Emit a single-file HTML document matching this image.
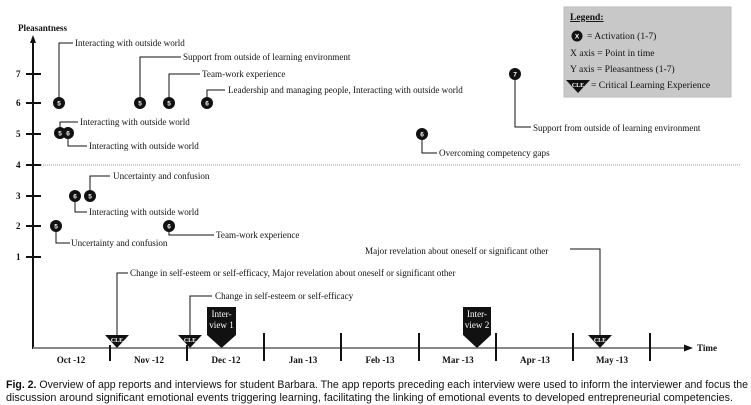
<!DOCTYPE html>
<html><head><meta charset="utf-8"><style>
html,body{margin:0;padding:0;background:#fff;}
svg{display:block}
.s{font-family:"Liberation Serif",serif;font-size:9.1px;fill:#111}
.l{font-size:9.6px}
.b{font-weight:bold}
.n{font-family:"Liberation Sans",sans-serif;font-size:6.5px;font-weight:bold;fill:#fff;text-anchor:middle}
.c{font-family:"Liberation Sans","DejaVu Sans",sans-serif;font-size:10.6px;fill:#111}
</style></head><body>
<svg width="751" height="405" viewBox="0 0 751 405" xmlns="http://www.w3.org/2000/svg">
<defs>
<g id="clet"><polygon points="-12,-13 12,-13 0,0" fill="#111"/><text x="0" y="-6" class="n" style="font-size:6px;font-family:'Liberation Serif',serif">CLE</text></g>
</defs>
<text x="18" y="31" class="s b">Pleasantness</text>
<line x1="33" y1="40" x2="33" y2="349" stroke="#111" stroke-width="2"/>
<polygon points="33,35 30,43 36,43" fill="#111"/>
<g stroke="#111" stroke-width="2">
<line x1="26" y1="74" x2="41" y2="74"/><line x1="26" y1="103" x2="41" y2="103"/>
<line x1="26" y1="134" x2="41" y2="134"/><line x1="26" y1="165" x2="41" y2="165"/>
<line x1="26" y1="196" x2="41" y2="196"/><line x1="26" y1="226" x2="41" y2="226"/>
<line x1="26" y1="257" x2="41" y2="257"/>
</g>
<g class="s b"><text x="16" y="77">7</text><text x="16" y="106">6</text><text x="16" y="137">5</text><text x="16" y="168">4</text><text x="16" y="199">3</text><text x="16" y="229">2</text><text x="16" y="260">1</text></g>
<line x1="41" y1="165" x2="740" y2="165" stroke="#999" stroke-width="1" stroke-dasharray="1,1"/>
<line x1="33" y1="348" x2="688" y2="348" stroke="#888" stroke-width="2"/>
<polygon points="693,348 684,344.5 684,351.5" fill="#111"/>
<text x="697" y="351" class="s b">Time</text>
<g stroke="#111" stroke-width="2">
<line x1="110" y1="345" x2="110" y2="361"/><line x1="187" y1="345" x2="187" y2="361"/>
<line x1="264" y1="333" x2="264" y2="361"/><line x1="341" y1="333" x2="341" y2="361"/>
<line x1="419" y1="333" x2="419" y2="361"/><line x1="496" y1="333" x2="496" y2="361"/>
<line x1="573" y1="333" x2="573" y2="361"/><line x1="650" y1="333" x2="650" y2="361"/>
</g>
<g class="s b" text-anchor="middle">
<text x="71" y="363">Oct -12</text><text x="149" y="363">Nov -12</text><text x="226" y="363">Dec -12</text>
<text x="303" y="363">Jan -13</text><text x="380" y="363">Feb -13</text><text x="458" y="363">Mar -13</text>
<text x="535" y="363">Apr -13</text><text x="612" y="363">May -13</text>
</g>
<g fill="none" stroke="#111" stroke-width="1">
<polyline points="59,103 59,43 73,43"/>
<polyline points="140,103 140,57 181,57"/>
<polyline points="169,103 169,74 200,74"/>
<polyline points="207,103 207,90 225,90"/>
<polyline points="60,133 60,122 78,122"/>
<polyline points="68,133 68,146 87,146"/>
<polyline points="422,134 422,153 437,153"/>
<polyline points="515,74 515,127 531,127"/>
<polyline points="75,196 75,212 87,212"/>
<polyline points="90,196 90,176 110,176"/>
<polyline points="56,226 56,243 70,243"/>
<polyline points="169,226 169,235 214,235"/>
<polyline points="117,340 117,273 128,273"/>
<polyline points="190,340 190,296 212,296"/>
<polyline points="600,340 600,249 570,249"/>
</g>
<g class="s">
<text x="75" y="46">Interacting with outside world</text>
<text x="183" y="60">Support from outside of learning environment</text>
<text x="202" y="77">Team-work experience</text>
<text x="228" y="93">Leadership and managing people, Interacting with outside world</text>
<text x="80" y="125">Interacting with outside world</text>
<text x="89" y="149">Interacting with outside world</text>
<text x="439" y="156">Overcoming competency gaps</text>
<text x="533" y="131">Support from outside of learning environment</text>
<text x="89" y="215">Interacting with outside world</text>
<text x="113" y="179">Uncertainty and confusion</text>
<text x="71" y="246">Uncertainty and confusion</text>
<text x="216" y="238">Team-work experience</text>
<text x="130" y="276">Change in self-esteem or self-efficacy, Major revelation about oneself or significant other</text>
<text x="215" y="299">Change in self-esteem or self-efficacy</text>
<text x="365" y="254">Major revelation about oneself or significant other</text>
</g>
<g fill="#111">
<circle cx="59" cy="103" r="6"/><circle cx="140" cy="103" r="6"/><circle cx="169" cy="103" r="6"/><circle cx="207" cy="103" r="6"/>
<circle cx="60" cy="133" r="6"/><circle cx="68" cy="133" r="6"/><circle cx="422" cy="134" r="6"/><circle cx="515" cy="74" r="6"/>
<circle cx="75" cy="196" r="6"/><circle cx="90" cy="196" r="6"/><circle cx="56" cy="226" r="6"/><circle cx="169" cy="226" r="6"/>
</g>
<g class="n">
<text x="59" y="105.5">5</text><text x="140" y="105.5">5</text><text x="169" y="105.5">5</text><text x="207" y="105.5">6</text>
<text x="60" y="135.5">5</text><text x="68" y="135.5">6</text><text x="422" y="136.5">6</text><text x="515" y="76.5">7</text>
<text x="75" y="198.5">6</text><text x="90" y="198.5">5</text><text x="56" y="228.5">5</text><text x="169" y="228.5">6</text>
</g>
<use href="#clet" x="117" y="348"/><use href="#clet" x="190" y="348"/><use href="#clet" x="600" y="348"/>
<polygon points="207,307 236,307 236,335 221.5,348 207,335" fill="#111"/>
<text x="221.5" y="317" class="s" style="fill:#fff" text-anchor="middle">Inter-</text>
<text x="221.5" y="328" class="s" style="fill:#fff" text-anchor="middle">view 1</text>
<polygon points="463,307 491,307 491,335 477,348 463,335" fill="#111"/>
<text x="477" y="317" class="s" style="fill:#fff" text-anchor="middle">Inter-</text>
<text x="477" y="328" class="s" style="fill:#fff" text-anchor="middle">view 2</text>
<rect x="564" y="7" width="167" height="90" fill="#c8c8c8" stroke="#bbb"/>
<text x="570" y="20" class="s l b" text-decoration="underline">Legend:</text>
<circle cx="577" cy="36" r="5.5" fill="#111"/><text x="577" y="38.5" class="n">X</text>
<text x="587" y="39" class="s l">= Activation (1-7)</text>
<text x="570" y="56" class="s l">X axis = Point in time</text>
<text x="570" y="72" class="s l">Y axis = Pleasantness (1-7)</text>
<use href="#clet" x="578" y="93"/>
<text x="591" y="88" class="s l">= Critical Learning Experience</text>
<text x="6" y="388" class="c" textLength="742" lengthAdjust="spacingAndGlyphs"><tspan font-weight="bold">Fig. 2.</tspan>  Overview of app reports and interviews for student Barbara. The app reports preceding each interview were used to inform the interviewer and focus the</text>
<text x="6" y="401" class="c" textLength="727" lengthAdjust="spacingAndGlyphs">discussion around significant emotional events triggering learning, facilitating the linking of emotional events to developed entrepreneurial competencies.</text>
</svg>
</body></html>
